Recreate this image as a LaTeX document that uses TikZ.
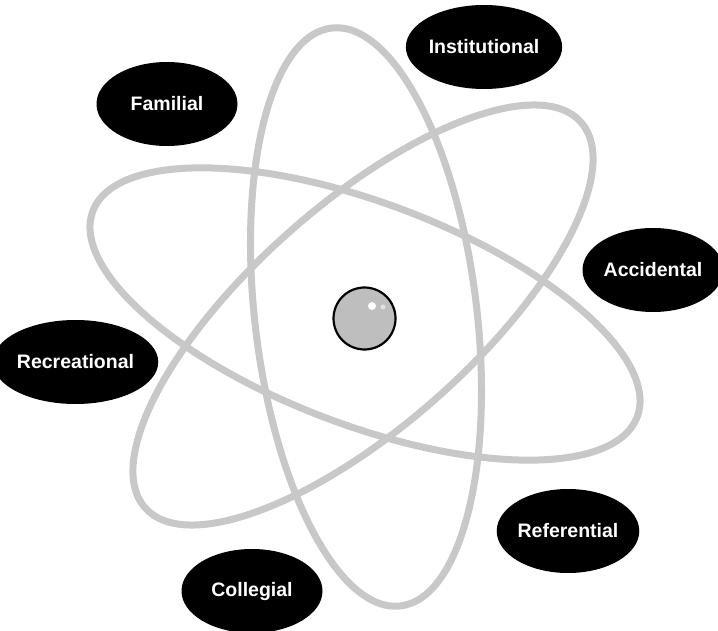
\documentclass[tikz,border=0pt]{standalone}
\usepackage{fontspec}
\setmainfont{Liberation Sans}
\usepackage{xcolor}
\usepackage{tikz}
\usetikzlibrary{shapes.geometric}
\definecolor{orbitdraw}{HTML}{C8C8C8}
\definecolor{corefill}{HTML}{BEBEBE}
\definecolor{glintfill}{HTML}{E2E2E2}
\tikzset{
  orbit/.style={ellipse, draw=orbitdraw, line width=7pt, inner sep=0pt, minimum width=582pt, minimum height=222pt},
  tag/.style={ellipse, fill=black, text=white, inner sep=0pt, minimum width=141pt, minimum height=84pt, font=\fontsize{19.5}{22}\selectfont\bfseries},
  core/.style={circle, draw=black, fill=corefill, line width=2.2pt, inner sep=0pt, minimum size=62pt},
  glint/.style={circle, inner sep=0pt},
}

\begin{document}
\begin{tikzpicture}[x=1pt, y=-1pt]
  \useasboundingbox (0,0) rectangle (718,631);
  % orbits
  \node[orbit, rotate=-20.7] (orbA) at (365,314) {};
  \node[orbit, rotate=-83.2] (orbB) at (366,317) {};
  \node[orbit, rotate=41.5] (orbC) at (363,315) {};
  % nucleus
  \node[core] (core) at (364.5,318.5) {};
  \node[glint, fill=white, minimum size=8pt] (glA) at (372,306) {};
  \node[glint, fill=glintfill, minimum size=5pt] (glB) at (383,307) {};
  % labels
  \node[tag] (fam) at (167,104) {Familial};
  \node[tag] (inst) at (484,47) {Institutional};
  \node[tag] (acc) at (653,270) {Accidental};
  \node[tag] (rec) at (75.5,362) {Recreational};
  \node[tag] (ref) at (568,531) {Referential};
  \node[tag] (col) at (252,591) {Collegial};
\end{tikzpicture}
\end{document}
